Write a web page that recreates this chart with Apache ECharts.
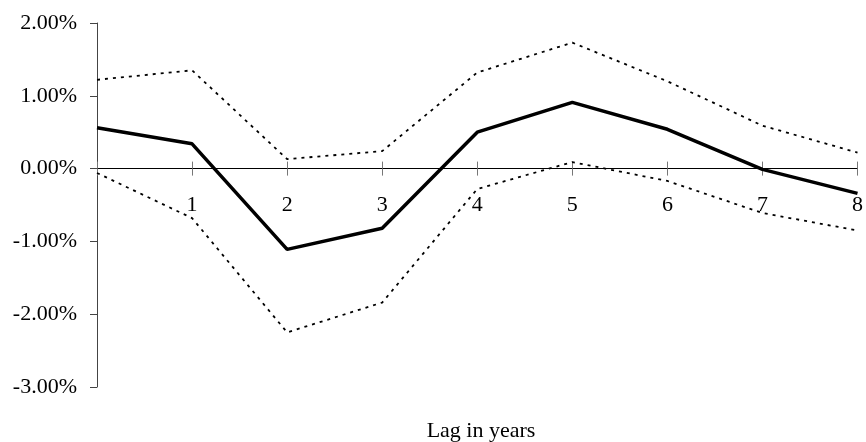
<!DOCTYPE html>
<html>
<head>
<meta charset="utf-8">
<script src="https://cdn.jsdelivr.net/npm/echarts@6/dist/echarts.min.js"></script>
<style>
  html, body { margin: 0; padding: 0; background: #fff; }
  #chart { width: 866px; height: 442px; }
</style>
</head>
<body>
<div id="chart"></div>
<script>
  // lag in years (0 is not labelled)
  var lags = ['0', '1', '2', '3', '4', '5', '6', '7', '8'];
  // values in percent
  var estimate = [0.56, 0.34, -1.11, -0.82, 0.50, 0.91, 0.54, -0.01, -0.34];
  var upperBand = [1.22, 1.35, 0.13, 0.24, 1.32, 1.73, 1.20, 0.59, 0.22];
  var lowerBand = [-0.06, -0.68, -2.25, -1.84, -0.28, 0.09, -0.17, -0.61, -0.85];
  var yMin = -3, yMax = 2;

  var font = 'Liberation Serif';
  var chart = echarts.init(document.getElementById('chart'));

  var gridTop = 23, gridBottom = 55;
  var plotH = 442 - gridTop - gridBottom;
  // move the x axis up from the grid bottom to the 0% line
  var zeroOffset = -plotH * (0 - yMin) / (yMax - yMin);

  var dotted = {
    color: '#000',
    width: 1.8,
    type: [3, 5]
  };

  chart.setOption({
    animation: false,
    grid: { left: 97, right: 1, top: gridTop, bottom: gridBottom },
    xAxis: [
      {
        type: 'category',
        data: lags,
        boundaryGap: false,
        offset: zeroOffset,
        axisLine: { onZero: false, lineStyle: { color: '#000', width: 1 } },
        axisTick: { length: 7, interval: 0, lineStyle: { color: '#777' } },
        axisLabel: {
          interval: 0,
          margin: 26,
          color: '#000',
          fontFamily: font,
          fontSize: 22,
          formatter: function (v) { return v === '0' ? '' : v; }
        },
        splitLine: { show: false }
      },
      {
        // second axis only for the upper half of the crossing ticks
        type: 'category',
        data: lags,
        boundaryGap: false,
        position: 'bottom',
        offset: zeroOffset,
        axisLine: { onZero: false, show: false },
        axisTick: { inside: true, length: 7, interval: 0, lineStyle: { color: '#777' } },
        axisLabel: { show: false },
        splitLine: { show: false }
      }
    ],
    yAxis: {
      type: 'value',
      min: yMin,
      max: yMax,
      interval: 1,
      axisLine: { show: true, lineStyle: { color: '#444', width: 1 } },
      axisTick: { show: true, length: 7, lineStyle: { color: '#444' } },
      axisLabel: {
        margin: 20,
        color: '#000',
        fontFamily: font,
        fontSize: 22,
        formatter: function (v) { return v.toFixed(2) + '%'; }
      },
      splitLine: { show: false }
    },
    graphic: [{
      type: 'text',
      style: {
        text: 'Lag in years',
        x: 481,
        y: 431,
        align: 'center',
        verticalAlign: 'middle',
        fill: '#000',
        font: '22px "Liberation Serif"'
      }
    }],
    series: [
      {
        name: 'Upper',
        type: 'line',
        data: upperBand,
        symbol: 'none',
        lineStyle: dotted
      },
      {
        name: 'Lower',
        type: 'line',
        data: lowerBand,
        symbol: 'none',
        lineStyle: dotted
      },
      {
        name: 'Estimate',
        type: 'line',
        data: estimate,
        symbol: 'none',
        lineStyle: { color: '#000', width: 3.5 }
      }
    ]
  });
</script>
</body>
</html>
